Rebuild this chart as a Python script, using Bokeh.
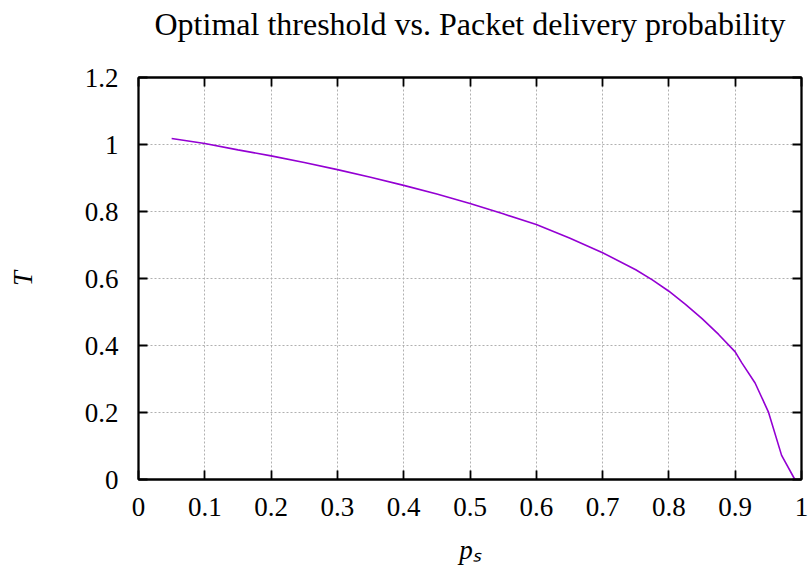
from bokeh.plotting import figure
from bokeh.models import Range1d, FixedTicker, LinearAxis
from bokeh.embed import file_html
from bokeh.resources import INLINE

# --- data ---
ps = [0.05, 0.10, 0.15, 0.20, 0.25, 0.30, 0.35, 0.40, 0.45, 0.50, 0.55, 0.60,
      0.65, 0.70, 0.75, 0.775, 0.80, 0.825, 0.85, 0.875, 0.90, 0.91, 0.93, 0.95, 0.97, 0.99]
T = [1.018, 1.003, 0.984, 0.966, 0.946, 0.925, 0.902, 0.878, 0.852, 0.824, 0.793, 0.761,
     0.721, 0.677, 0.626, 0.596, 0.562, 0.523, 0.480, 0.433, 0.381, 0.348, 0.288, 0.202, 0.072, 0.0]

x_ticks = [0.0, 0.1, 0.2, 0.3, 0.4, 0.5, 0.6, 0.7, 0.8, 0.9, 1.0]
x_tick_labels = ["0", "0.1", "0.2", "0.3", "0.4", "0.5", "0.6", "0.7", "0.8", "0.9", "1"]
y_ticks = [0.0, 0.2, 0.4, 0.6, 0.8, 1.0, 1.2]
y_tick_labels = ["0", "0.2", "0.4", "0.6", "0.8", "1", "1.2"]

title_text = "Optimal threshold vs. Packet delivery probability"
x_label = "p\u209b"
y_label = "T"

FONT = "Liberation Serif"

p = figure(width=810, height=579, output_backend="svg", toolbar_location=None,
           x_range=Range1d(0, 1), y_range=Range1d(0, 1.2),
           min_border_left=138, min_border_right=9, min_border_top=77, min_border_bottom=100)

p.outline_line_color = "black"
p.outline_line_width = 1.8
p.background_fill_color = "white"
p.border_fill_color = "white"

# grid
p.xgrid.ticker = FixedTicker(ticks=x_ticks)
p.ygrid.ticker = FixedTicker(ticks=y_ticks)
for g in (p.xgrid, p.ygrid):
    g.grid_line_color = "#b0b0b0"
    g.grid_line_dash = "2 2"
    g.grid_line_width = 1

def style_axis(ax, ticks, labels, standoff):
    ax.ticker = FixedTicker(ticks=ticks)
    if labels is not None:
        ax.major_label_overrides = dict(zip(ticks, labels))
        ax.major_label_text_font = FONT
        ax.major_label_text_font_size = "27px"
        ax.major_label_text_color = "black"
        ax.major_label_standoff = standoff
    else:
        # mirror axis: ticks only, no tick labels drawn
        ax.major_label_text_font_size = "1px"
        ax.major_label_text_color = None
        ax.major_label_standoff = 0
    ax.major_tick_in = 9
    ax.major_tick_out = 0
    ax.minor_tick_in = 0
    ax.minor_tick_out = 0
    ax.major_tick_line_width = 1.8
    ax.major_tick_line_color = "black"
    ax.minor_tick_line_color = None
    ax.axis_line_color = "black"
    ax.axis_line_width = 1.8

style_axis(p.xaxis[0], x_ticks, x_tick_labels, 18)
style_axis(p.yaxis[0], y_ticks, y_tick_labels, 20)

def style_label(ax, text, size, style, standoff):
    ax.axis_label = text
    ax.axis_label_text_font = FONT
    ax.axis_label_text_font_size = size
    ax.axis_label_text_font_style = style
    ax.axis_label_text_color = "black"
    ax.axis_label_standoff = standoff

style_label(p.xaxis[0], x_label, "27px", "italic", 16)
style_label(p.yaxis[0], y_label, "27px", "italic", 44)

top = LinearAxis()
style_axis(top, x_ticks, None, 0)
style_label(top, title_text, "32px", "normal", 36)
p.add_layout(top, "above")
right = LinearAxis()
style_axis(right, y_ticks, None, 0)
p.add_layout(right, "right")

# curve
p.line(ps, T, line_color="#9400d3", line_width=1.6)

open("out.html", "w").write(file_html(p, INLINE))
